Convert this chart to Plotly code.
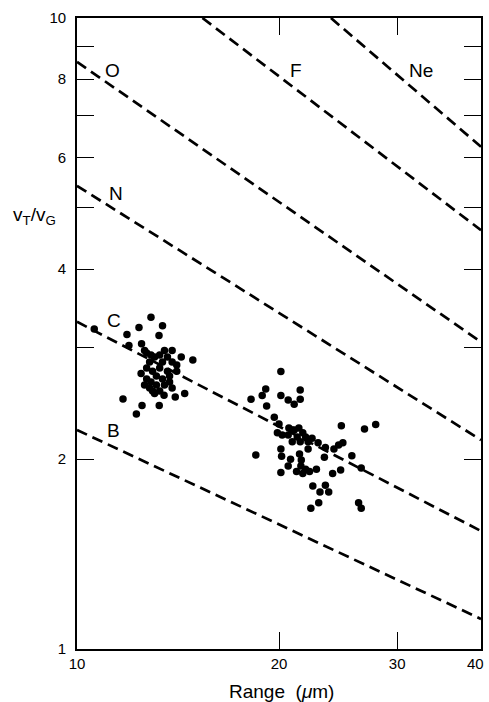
import math
import plotly.graph_objects as go

# Theory lines (element, x endpoints in µm, y endpoints in vT/vG)
line_names = ["B", "C", "N", "O", "F", "Ne"]
line_x = [[10, 40], [10, 40], [10, 40], [10, 40], [15.38, 40], [23.9, 40]]
line_y = [[2.224, 1.116], [3.30, 1.538], [5.42, 2.144], [8.52, 3.066], [10, 4.61], [10, 6.25]]

# Label positions for each line
label_x = [11.35, 11.35, 11.43, 11.31, 21.20, 32.59]
label_y = [2.216, 3.322, 5.28, 8.27, 8.27, 8.27]

# Measured events: cluster near 13 µm
c1_x = [10.61, 12.89, 13.41, 12.37, 11.87, 13.25, 11.95, 12.48, 12.61, 13.50, 13.86, 14.30,
        14.88, 12.46, 14.08, 11.71, 12.50, 12.26, 13.26, 13.48, 14.01, 14.47, 13.05, 13.74,
        12.70, 12.89, 13.05, 13.28, 13.64, 12.83, 12.70, 13.41, 13.86, 14.08, 12.96, 13.28,
        13.64, 12.70, 12.89, 13.13, 13.41, 13.74, 12.83, 13.13, 13.28, 13.50, 12.61, 12.96,
        13.86]
c1_y = [3.215, 3.354, 3.253, 3.232, 3.152, 3.139, 3.027, 3.046, 2.972, 2.972, 2.972, 2.902,
        2.871, 2.733, 2.755, 2.491, 2.432, 2.357, 2.432, 2.524, 2.509, 2.541, 2.541, 2.649,
        2.945, 2.924, 2.902, 2.924, 2.902, 2.850, 2.788, 2.850, 2.850, 2.818, 2.755, 2.788,
        2.755, 2.678, 2.649, 2.707, 2.678, 2.707, 2.592, 2.621, 2.564, 2.621, 2.621, 2.564,
        2.592]

# Measured events: cluster near 22 µm
c2_x = [20.13, 19.11, 21.51, 18.17, 18.88, 20.13, 20.64, 21.07, 21.51, 19.17, 19.68, 20.00,
        24.77, 26.82, 27.87, 19.89, 20.22, 20.93, 22.40, 22.87, 23.45, 24.15, 24.54, 24.90,
        18.47, 20.13, 20.18, 22.10, 21.46, 23.37, 25.68, 20.81, 21.59, 20.64, 21.56, 21.91,
        20.13, 21.24, 21.70, 22.21, 22.74, 24.04, 24.71, 26.52, 22.46, 23.45, 23.02, 23.72,
        22.92, 22.31, 26.28, 26.52,
        20.69, 21.07, 21.41, 21.70, 21.29, 21.91, 22.10, 20.64, 20.93, 21.51]
c2_y = [2.753, 2.583, 2.574, 2.488, 2.522, 2.522, 2.481, 2.442, 2.488, 2.427, 2.329, 2.273,
        2.259, 2.231, 2.269, 2.202, 2.184, 2.131, 2.158, 2.123, 2.087, 2.075, 2.105, 2.123,
        2.030, 2.075, 2.021, 2.075, 2.038, 2.013, 2.025, 1.998, 1.993, 1.950, 1.950, 1.927,
        1.905, 1.911, 1.898, 1.911, 1.927, 1.898, 1.922, 1.936, 1.813, 1.817, 1.773, 1.773,
        1.705, 1.671, 1.705, 1.671,
        2.239, 2.224, 2.239, 2.202, 2.168, 2.168, 2.131, 2.184, 2.224, 2.131]

x_ticks = [10, 20, 30]
x_last_tick = 40
y_ticks = [1, 2, 4, 6, 8, 10]
y_minor_ticks = [3, 5, 7, 9]

FONT = "Liberation Sans, Arial, sans-serif"

fig = go.Figure()
for name, xs, ys in zip(line_names, line_x, line_y):
    fig.add_trace(go.Scatter(x=xs, y=ys, mode="lines", name=name,
                             line=dict(color="black", width=2.7, dash="11px,6px"),
                             showlegend=False, hoverinfo="skip"))

fig.add_trace(go.Scatter(x=c1_x + c2_x, y=c1_y + c2_y, mode="markers",
                         marker=dict(color="black", size=7.5), showlegend=False))

# annotations on log axes take log10 coordinates
for name, lx, ly in zip(line_names, label_x, label_y):
    fig.add_annotation(x=math.log10(lx), y=math.log10(ly), xref="x", yref="y",
                       text=name, showarrow=False,
                       font=dict(family=FONT, size=19, color="black"),
                       xanchor="center", yanchor="middle")

# last x tick label, kept inside the page edge
fig.add_annotation(x=math.log10(x_last_tick), y=0, xref="x", yref="paper",
                   text=str(x_last_tick), showarrow=False, xanchor="right", yanchor="top",
                   xshift=5, yshift=-4,
                   font=dict(family=FONT, size=15, color="black"))

fig.add_annotation(x=0.505, y=-0.068, xref="paper", yref="paper",
                   text="Range  (<i>μ</i>m)", showarrow=False,
                   font=dict(family=FONT, size=19, color="black"),
                   xanchor="center", yanchor="middle")
fig.add_annotation(x=-0.106, y=0.686, xref="paper", yref="paper",
                   text="v<sub>T</sub>/v<sub>G</sub>", showarrow=False,
                   font=dict(family=FONT, size=19, color="black"),
                   xanchor="center", yanchor="middle")

fig.update_xaxes(type="log", range=[1, math.log10(40)], tickvals=x_ticks + [x_last_tick],
                 ticktext=[str(v) for v in x_ticks] + [""], ticks="inside", ticklen=17,
                 tickwidth=1.2, tickcolor="black", showline=True, linecolor="black",
                 linewidth=1.6, mirror="ticks", showgrid=False, zeroline=False,
                 tickfont=dict(family=FONT, size=15, color="black"))
fig.update_yaxes(type="log", range=[0, 1], tickvals=y_ticks,
                 ticktext=[str(v) for v in y_ticks],
                 ticks="inside", ticklen=17, tickwidth=1.2, tickcolor="black",
                 minor=dict(tickvals=y_minor_ticks, ticks="inside", ticklen=17,
                            tickwidth=1.2, tickcolor="black", showgrid=False),
                 showline=True, linecolor="black", linewidth=1.6, mirror="ticks",
                 showgrid=False, zeroline=False, ticklabelstandoff=6,
                 tickfont=dict(family=FONT, size=15, color="black"))

fig.update_layout(width=489, height=702, margin=dict(l=77, r=6, t=18, b=53),
                  paper_bgcolor="white", plot_bgcolor="white")

fig.write_html("out.html", config={"displayModeBar": False},
               post_script="document.body.style.margin='0px';")
